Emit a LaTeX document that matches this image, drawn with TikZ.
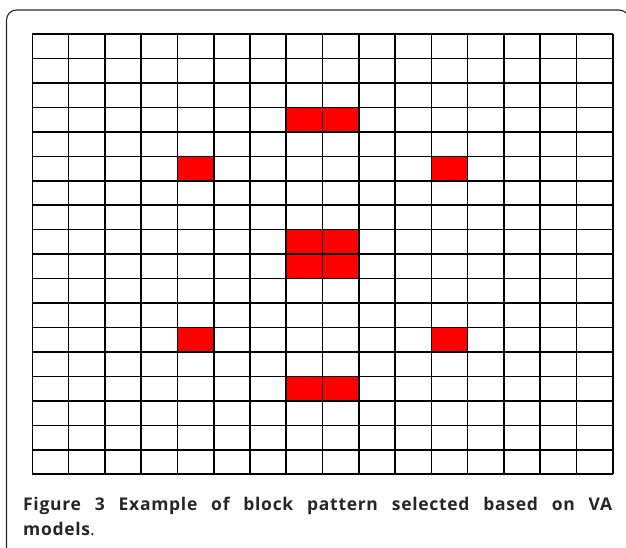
\documentclass[tikz,border=0pt]{standalone}
\usepackage{fontspec}
\setmainfont{PT Sans}
\newfontfamily\capfont[LetterSpace=4]{Open Sans}
\begin{document}
\begin{tikzpicture}[x=1pt,y=-1pt,
  gridline/.style={line width=1.6pt,black},
  framebox/.style={line width=1.1pt,black!85},
  hotcell/.style={fill=red},
  captiontext/.style={anchor=base west,inner sep=0pt,text width=589pt,align=justify,font=\capfont\fontsize{17.5}{25}\selectfont\bfseries,text=black!85}]
\useasboundingbox (0,0) rectangle (626,547);
\def\xo{32.3}\def\yo{34}\def\cw{36.28}\def\rh{24.46}
% red cells (column,row)
\foreach \c/\r in {7/3,8/3,4/5,11/5,7/8,8/8,7/9,8/9,4/12,11/12,7/14,8/14}{
  \fill[hotcell] ({\xo+\c*\cw},{\yo+\r*\rh}) rectangle ({\xo+(\c+1)*\cw},{\yo+(\r+1)*\rh});
}
% grid
\foreach \c in {0,...,16}{
  \draw[gridline] ({\xo+\c*\cw},\yo) -- ({\xo+\c*\cw},{\yo+18*\rh});
}
\foreach \r in {0,...,18}{
  \draw[gridline] (\xo,{\yo+\r*\rh}) -- ({\xo+16*\cw},{\yo+\r*\rh});
}
% frame
\draw[framebox,rounded corners=10pt] (6.5,550) -- (6.5,10) -- (629,10) -- (629,40);
% caption
\node[captiontext] (cap) at (23,510) {Figure 3 Example of block pattern selected based on VA\linebreak models{\mdseries.}};
\end{tikzpicture}
\end{document}
